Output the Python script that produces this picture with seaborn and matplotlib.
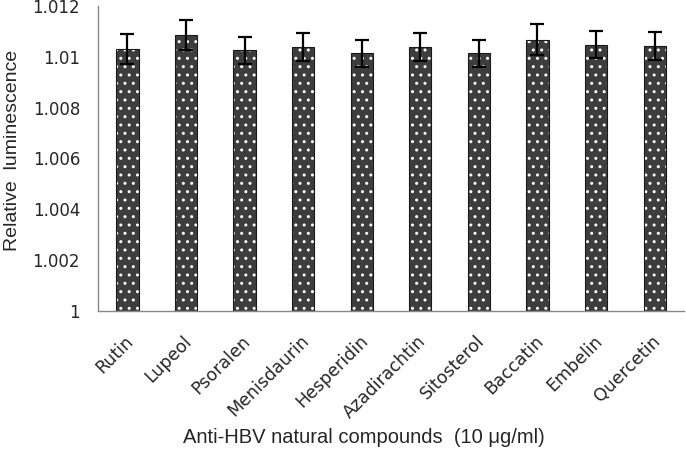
import matplotlib
matplotlib.use("Agg")
import matplotlib.pyplot as plt
import matplotlib.transforms as mtransforms
import seaborn as sns
import numpy as np
import pandas as pd

compounds = ["Rutin", "Lupeol", "Psoralen", "Menisdaurin", "Hesperidin",
             "Azadirachtin", "Sitosterol", "Baccatin", "Embelin", "Quercetin"]
luminescence = [1.01031, 1.01086, 1.01025, 1.01038, 1.01013,
                1.01037, 1.01013, 1.01067, 1.01048, 1.01042]
errors = [0.00060, 0.00059, 0.00054, 0.00054, 0.00054,
          0.00055, 0.00054, 0.00061, 0.00054, 0.00055]
yticks = [1, 1.002, 1.004, 1.006, 1.008, 1.01, 1.012]
ytick_labels = ["1", "1.002", "1.004", "1.006", "1.008", "1.01", "1.012"]

sns.set_style("white")
plt.rcParams['font.family'] = ['DejaVu Sans']

df = pd.DataFrame({"compound": compounds, "value": luminescence})

fig = plt.figure(figsize=(6.86, 4.54), dpi=100)
ax = fig.add_axes([0.143, 0.315, 0.854, 0.672])

sns.barplot(data=df, x="compound", y="value", color="#3d3d3d", width=0.38,
            edgecolor="#1a1a1a", linewidth=0.8, saturation=1, ax=ax)
for p in ax.patches:
    p.set_hatch("..")
    p._hatch_color = (1, 1, 1, 1)

ax.errorbar(x=np.arange(len(compounds)), y=luminescence, yerr=errors, fmt="none",
            ecolor="black", elinewidth=1.6, capsize=5, capthick=1.6, zorder=5)

ax.set_ylim(1, 1.012)
ax.set_xlim(-0.5, len(compounds) - 0.5)
ax.set_yticks(yticks)
ax.set_yticklabels(ytick_labels, fontsize=12)

ax.set_xticks(np.arange(len(compounds)))
ax.set_xticklabels(compounds, rotation=45, ha="right", rotation_mode="anchor", fontsize=12.5)
ax.tick_params(axis="x", which="major", length=0, pad=15)
shift = mtransforms.ScaledTranslation(-3 / 100, 0, fig.dpi_scale_trans)
for lbl in ax.get_xticklabels():
    lbl.set_transform(lbl.get_transform() + shift)
ax.set_xticks(np.arange(len(compounds) + 1) - 0.5, minor=True)
ax.tick_params(axis="x", which="minor", length=5, color="#888888", width=1, direction="out")
ax.tick_params(axis="y", which="major", length=5, color="#888888", width=1, direction="out", pad=8)

for s in ["top", "right"]:
    ax.spines[s].set_visible(False)
for s in ["left", "bottom"]:
    ax.spines[s].set_color("#888888")
    ax.spines[s].set_linewidth(1)

ax.set_ylabel("Relative  luminescence", fontsize=14, family=["Liberation Sans"])
ax.yaxis.set_label_coords((21 - 98) / 586, 0.525)
ax.set_xlabel("Anti-HBV natural compounds  (10 \u03bcg/ml)", fontsize=14.5,
              family=["Liberation Sans", "DejaVu Sans"])
ax.xaxis.set_label_coords((364 - 98) / 586, -0.385)

fig.savefig("out.png", dpi=100)
